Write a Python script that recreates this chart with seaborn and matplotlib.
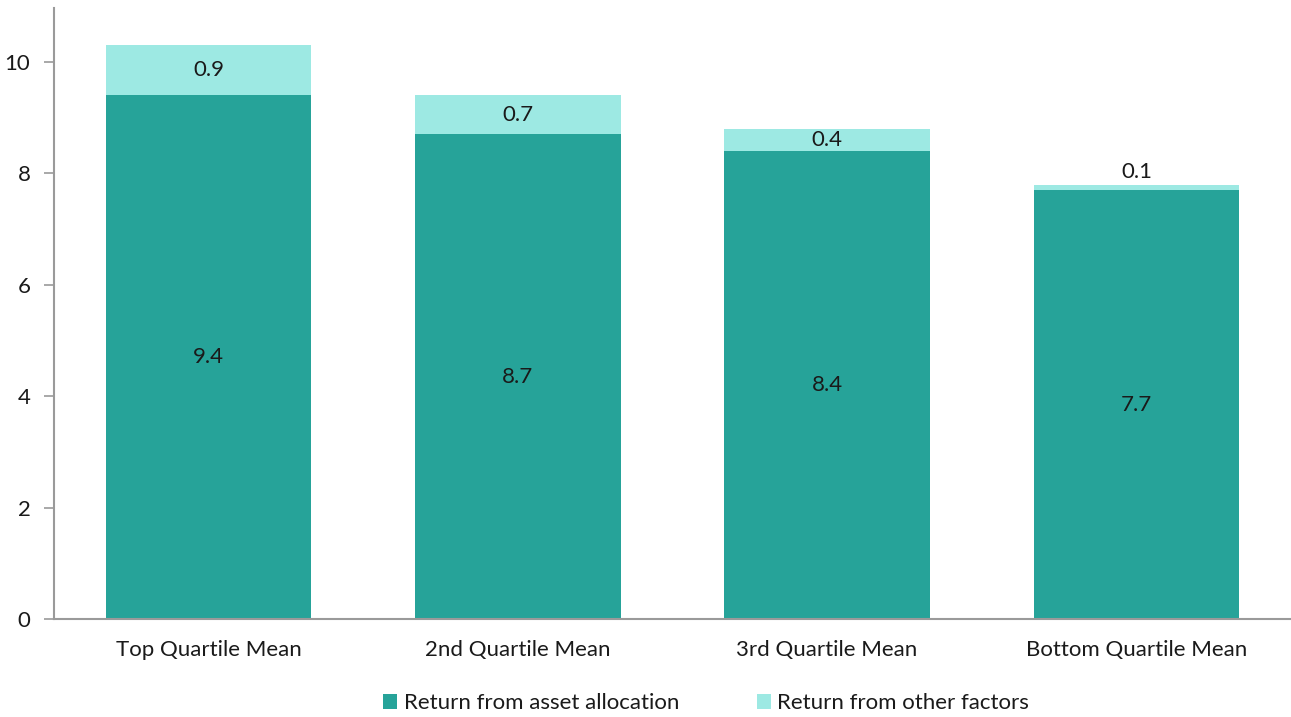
import matplotlib
matplotlib.use("Agg")
import matplotlib.pyplot as plt
import seaborn as sns
import pandas as pd
from matplotlib.patches import Patch

categories = ["Top Quartile Mean", "2nd Quartile Mean", "3rd Quartile Mean", "Bottom Quartile Mean"]
asset_allocation = [9.4, 8.7, 8.4, 7.7]
other_factors = [0.9, 0.7, 0.4, 0.1]
series_names = ["Return from asset allocation", "Return from other factors"]
y_ticks = [0, 2, 4, 6, 8, 10]

dark = "#26A399"
light = "#9DE9E3"
text_color = "#1a1a1a"
spine_color = "#9a9a9a"

sns.set_theme(style="white")
plt.rcParams["font.family"] = ["Lato", "DejaVu Sans"]

df = pd.DataFrame({
    "category": categories,
    "asset": asset_allocation,
    "other": other_factors,
})
df["total"] = df["asset"] + df["other"]

fig = plt.figure(figsize=(12.91, 7.17), dpi=100)
ax = fig.add_axes([54 / 1291, 98 / 717, 1 - 54 / 1291, (619 - 8) / 717])

# stacked bars: totals underneath, asset allocation drawn over them
sns.barplot(data=df, x="category", y="total", color=light, saturation=1,
            width=0.665, ax=ax, linewidth=0)
sns.barplot(data=df, x="category", y="asset", color=dark, saturation=1,
            width=0.665, ax=ax, linewidth=0)

fs = 16
for i, row in df.iterrows():
    ax.text(i, row["asset"] / 2, f"{row['asset']:.1f}", ha="center", va="center",
            fontsize=fs, color=text_color)
    if row["other"] >= 0.3:
        y = row["asset"] + row["other"] / 2
    else:
        y = row["total"] + 0.22
    ax.text(i, y, f"{row['other']:.1f}", ha="center", va="center",
            fontsize=fs, color=text_color)

ax.set_xlim(-0.5, 3.5)
ax.set_ylim(0, 10.97)
ax.set_yticks(y_ticks)
ax.set_xlabel("")
ax.set_ylabel("")
ax.tick_params(axis="y", which="both", left=True, length=7, width=1.2,
               color=spine_color, labelsize=fs, labelcolor=text_color, pad=10)
ax.tick_params(axis="x", bottom=False, labelsize=fs, labelcolor=text_color, pad=9)

for side in ["top", "right"]:
    ax.spines[side].set_visible(False)
for side in ["left", "bottom"]:
    ax.spines[side].set_color(spine_color)
    ax.spines[side].set_linewidth(1.5)

handles = [Patch(facecolor=dark, edgecolor="none"), Patch(facecolor=light, edgecolor="none")]
fig.legend(handles, series_names, loc="center", bbox_to_anchor=(0.547, 0.019),
           ncol=2, frameon=False, fontsize=16, handlelength=0.62, handleheight=0.62,
           handletextpad=0.3, columnspacing=3.5, labelcolor=text_color)

fig.savefig("out.png", dpi=100)
